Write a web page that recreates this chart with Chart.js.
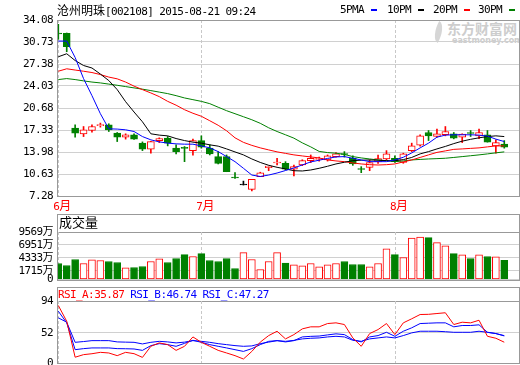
<!DOCTYPE html>
<html>
<head>
<meta charset="utf-8">
<script src="https://cdn.jsdelivr.net/npm/chart.js@4.4.1/dist/chart.umd.min.js"></script>
<style>
  html, body { margin: 0; padding: 0; background: #fff; overflow: hidden; }
  #wrap { position: relative; width: 520px; height: 365px; overflow: hidden; }
  canvas { position: absolute; left: 0; z-index: 1; }
  .box { position: absolute; box-sizing: border-box; border: 1px solid #999; z-index: 2; pointer-events: none; }
  .txt { position: absolute; white-space: pre; z-index: 3; color: #000;
         font-family: "DejaVu Sans Mono", "Noto Sans CJK SC", monospace; font-size: 11px;
         letter-spacing: -0.6px; line-height: 12px; }
  .cj { font-family: "Noto Sans CJK SC", sans-serif; font-size: 12px; letter-spacing: 0; }
  .dash { position: absolute; width: 6px; height: 2px; z-index: 3; }
  .wm { position: absolute; color: #cdcdcd; z-index: 0; font-weight: bold; white-space: pre; }
</style>
</head>
<body>
<div id="wrap">
  <div class="wm" style="left:447px;top:19px;font-family:'Noto Sans CJK SC';font-size:14px;line-height:18px;">东方财富网</div>
  <div class="wm" style="left:452px;top:36px;font-family:'DejaVu Sans';font-size:8px;line-height:10px;">eastmoney.com</div>
  <div class="wm" style="left:434px;top:22px;width:9px;height:20px;background:#d6d6d6;border-radius:0 100% 0 100%;transform:rotate(28deg);"></div>

  <div class="txt" style="left:57px;top:4px;"><span class="cj">沧州明珠</span>[002108] 2015-08-21 09:24</div>
  <div id="legend"></div>

  <canvas id="kline" width="520" height="210" style="top:0px"></canvas>
  <canvas id="vol" width="520" height="90" style="top:200px"></canvas>
  <canvas id="rsi" width="520" height="90" style="top:285px"></canvas>

  <div class="box" style="left:57px;top:20px;width:463px;height:177px;"></div>
  <div class="box" style="left:57px;top:214px;width:463px;height:67px;"></div>
  <div class="box" style="left:57px;top:287px;width:463px;height:77px;"></div>

  <div class="txt" style="left:59px;top:216px;"><span class="cj" style="font-size:13px">成交量</span></div>
  <div class="txt" id="rsiTitle" style="left:58px;top:289px;"></div>
  <div id="months"></div>
</div>

<script>
// trading days from 2015-06-01 to 2015-08-21, one entry per candle
const monthLabels = ['6月', '7月', '8月'];
const monthStart = [0, 17, 40];

const openP = [32.05, 32.05, 17.62, 16.74, 17.25, 18.00, 18.10, 16.86, 16.24, 16.60,
  15.33, 14.41, 15.72, 16.09, 14.56, 14.60, 14.19, 15.72, 14.56, 13.28,
  13.28, 10.10, 8.95, 8.29, 10.22, 11.60, 12.30, 12.26, 11.35, 12.00,
  12.66, 12.85, 12.77, 13.28, 13.68, 13.03, 11.40, 11.65, 12.47, 12.92,
  13.03, 12.41, 14.19, 15.02, 16.95, 16.34, 16.60, 16.75, 16.24, 16.90,
  16.44, 16.60, 14.91, 15.17];
const highP = [33.42, 32.10, 18.10, 17.86, 18.10, 18.38, 18.28, 16.95, 16.75, 16.75,
  15.52, 15.60, 16.14, 16.34, 15.07, 14.81, 15.94, 16.44, 15.07, 14.04,
  13.53, 10.83, 9.55, 9.82, 10.90, 11.85, 13.03, 12.51, 12.00, 12.80,
  13.53, 13.20, 13.53, 13.90, 14.04, 13.40, 11.75, 12.77, 13.53, 14.19,
  13.40, 13.80, 15.33, 16.60, 17.25, 17.47, 17.86, 16.95, 16.75, 17.25,
  17.47, 17.25, 15.83, 15.72];
const lowP = [31.13, 29.25, 16.24, 16.33, 17.00, 17.77, 17.10, 15.57, 15.94, 15.90,
  14.19, 13.80, 15.41, 14.91, 13.69, 12.51, 13.49, 14.56, 13.53, 12.16,
  10.98, 9.97, 8.95, 8.07, 10.22, 11.13, 12.00, 11.24, 10.32, 11.90,
  12.36, 12.60, 12.60, 13.20, 13.20, 11.95, 10.83, 11.13, 12.26, 12.77,
  12.41, 12.26, 14.04, 14.85, 15.72, 16.24, 16.44, 15.98, 15.41, 16.34,
  16.00, 15.48, 13.80, 14.56];
const closeP = [31.95, 30.00, 16.86, 17.36, 17.86, 18.10, 17.36, 16.24, 16.60, 15.94,
  14.41, 15.57, 16.04, 15.33, 14.04, 14.52, 15.72, 14.71, 13.69, 12.26,
  10.98, 10.02, 8.95, 9.82, 10.80, 11.85, 12.40, 11.35, 11.75, 12.66,
  13.03, 12.92, 13.38, 13.69, 13.60, 12.16, 11.32, 12.36, 12.97, 13.69,
  12.51, 13.69, 14.91, 16.44, 16.44, 16.75, 17.10, 16.09, 16.70, 16.80,
  16.95, 15.48, 15.41, 14.71];

const ma5 = [30.87, 30.87, 28.37, 25.16, 22.56, 19.81, 17.51, 17.47, 17.36, 17.10,
  16.33, 15.83, 15.52, 15.33, 15.22, 15.17, 15.17, 14.91, 14.61, 14.04,
  13.28, 12.51, 11.50, 10.47, 10.25, 10.47, 10.78, 11.16, 11.55, 12.01,
  12.47, 12.73, 13.00, 13.23, 13.28, 13.03, 12.77, 12.51, 12.51, 12.51,
  12.77, 13.18, 13.84, 14.61, 15.33, 16.24, 16.55, 16.60, 16.60, 16.60,
  16.55, 16.40, 15.94, 15.57];
const ma10 = [28.48, 28.94, 27.91, 27.15, 26.77, 25.85, 24.86, 23.48, 21.64, 20.07,
  18.58, 16.75, 16.55, 16.44, 16.03, 15.72, 15.48, 15.33, 15.07, 14.87,
  14.45, 13.99, 13.54, 12.92, 12.39, 11.96, 11.65, 11.40, 11.13, 11.09,
  11.24, 11.50, 11.81, 12.16, 12.42, 12.66, 12.73, 12.77, 12.73, 12.66,
  12.66, 12.82, 13.15, 13.69, 14.04, 14.45, 14.83, 15.26, 15.63, 15.91,
  16.14, 16.33, 16.44, 16.33];
const ma20 = [26.28, 26.65, 26.46, 26.28, 26.08, 25.77, 25.39, 25.12, 24.63, 24.01,
  23.48, 22.97, 22.41, 21.69, 21.11, 20.42, 19.88, 19.42, 18.74, 18.05,
  17.21, 16.14, 15.45, 14.99, 14.61, 14.30, 14.00, 13.77, 13.54, 13.38,
  13.23, 13.08, 12.77, 12.62, 12.51, 12.31, 12.16, 12.05, 12.00, 12.05,
  12.16, 12.47, 12.77, 13.15, 13.54, 13.92, 14.15, 14.38, 14.45, 14.53,
  14.61, 14.76, 14.91, 14.91];
const ma30 = [25.01, 25.16, 25.01, 24.81, 24.63, 24.50, 24.32, 24.14, 23.94, 23.74,
  23.55, 23.33, 23.10, 22.87, 22.56, 22.21, 21.95, 21.69, 21.34, 20.80,
  20.27, 19.81, 19.35, 18.89, 18.35, 17.67, 17.10, 16.60, 16.09, 15.37,
  14.76, 14.07, 13.89, 13.80, 13.61, 13.28, 13.08, 12.92, 12.77, 12.66,
  12.51, 12.62, 12.77, 12.85, 12.92, 12.97, 13.03, 13.15, 13.28, 13.41,
  13.54, 13.69, 13.85, 14.00];

// volume in 万 shares
const volume = [3210, 2808, 4012, 3210, 3950, 3811, 3611, 3410, 2340, 2407,
  2608, 3611, 4146, 3410, 4213, 5015, 4614, 5216, 3811, 3611,
  4213, 2207, 5416, 4012, 2006, 3611, 5416, 3270, 2949, 2748,
  3210, 2548, 2949, 3210, 3611, 3009, 3009, 2548, 3210, 6158,
  5015, 4413, 8365, 8565, 8425, 7422, 6760, 5216, 4955, 4213,
  4955, 4614, 4554, 3872];

const rsiA = [99.3, 72.0, 10.0, 14.4, 16.0, 18.4, 17.3, 12.7, 18.4, 16.1,
  9.7, 28.8, 34.7, 31.7, 21.8, 28.8, 45.0, 35.7, 28.8, 21.8,
  17.3, 12.7, 6.9, 20.0, 36.0, 47.3, 54.8, 41.6, 49.0, 58.9,
  62.4, 62.4, 68.1, 69.3, 66.4, 43.3, 28.8, 50.8, 57.7, 68.1,
  49.0, 69.3, 76.3, 83.7, 84.0, 85.4, 86.7, 66.4, 70.4, 69.3,
  73.8, 46.1, 42.7, 35.87];
const rsiB = [89.4, 69.3, 23.0, 24.8, 26.0, 26.0, 26.0, 24.8, 24.6, 24.2,
  21.8, 30.0, 33.4, 31.7, 28.8, 33.9, 39.2, 35.7, 31.7, 28.8,
  26.0, 23.0, 20.0, 24.8, 31.7, 37.4, 38.6, 36.4, 38.6, 45.0,
  46.0, 46.5, 48.5, 50.3, 49.0, 40.4, 36.4, 45.0, 47.3, 53.0,
  46.1, 54.8, 60.7, 68.1, 68.7, 69.3, 69.3, 62.4, 64.7, 64.7,
  65.9, 53.0, 50.8, 46.74];
const rsiC = [78.0, 70.4, 35.7, 37.0, 38.6, 38.6, 38.6, 36.4, 36.0, 35.7,
  32.9, 35.7, 37.4, 36.4, 34.7, 36.0, 38.6, 37.4, 35.7, 33.4,
  31.7, 30.0, 28.8, 29.5, 33.4, 36.0, 38.6, 37.4, 39.0, 41.6,
  42.7, 43.3, 45.0, 46.1, 45.0, 39.2, 37.4, 41.6, 43.3, 45.0,
  43.3, 47.3, 52.0, 54.8, 54.8, 54.8, 54.0, 53.0, 53.0, 53.0,
  54.8, 53.0, 50.8, 47.27];

const priceTicks = [7.28, 10.63, 13.98, 17.33, 20.68, 24.03, 27.38, 30.73, 34.08];
const volTicks = [0, 1715, 4333, 6951, 9569];
const volTickLabels = ['0', '1715万', '4333万', '6951万', '9569万'];
const rsiTicks = [0, 52, 107];
const rsiTickLabels = ['0', '52', '94'];
const maLegend = ['5PMA', '10PM', '20PM', '30PM'];

const RED = '#ff0000', GREEN = '#008000', BLUE = '#0000ff', BLACK = '#000000';
const GRID = '#d0d0d0', FRAME = '#999999';
const maColors = [BLUE, BLACK, RED, GREEN];

const idx = openP.map((_, i) => i);
const candleColor = i => closeP[i] > openP[i] ? RED : (closeP[i] < openP[i] ? GREEN : BLACK);
const upDay = i => closeP[i] >= openP[i];
const pts = arr => arr.map((v, i) => ({ x: i, y: v }));

const tickFont = { family: '"DejaVu Sans Mono", "Noto Sans CJK SC", monospace', size: 11 };

// tighter tick labels, closer to the narrow bitmap font of the original
const tightText = {
  id: 'tightText',
  afterInit(chart) { chart.ctx.letterSpacing = '-0.6px'; }
};

// dashed line at the first trading day of each month
const monthLines = {
  id: 'monthLines',
  beforeDatasetsDraw(chart) {
    const { ctx, chartArea, scales } = chart;
    ctx.save();
    ctx.strokeStyle = '#c8c8c8';
    ctx.lineWidth = 1;
    ctx.setLineDash([3, 2]);
    monthStart.forEach(i => {
      const px = Math.round(scales.x.getPixelForValue(i)) + 0.5;
      ctx.beginPath();
      ctx.moveTo(px, chartArea.top);
      ctx.lineTo(px, chartArea.bottom);
      ctx.stroke();
    });
    ctx.restore();
  }
};

function xAxis() {
  return { type: 'linear', display: false, min: -0.155, max: 54.75, offset: false, grid: { display: false } };
}

function yAxis(min, max, ticks, labelFn, topColor) {
  return {
    type: 'linear', min: min, max: max,
    afterBuildTicks: s => { s.ticks = ticks.map(v => ({ value: v })); },
    afterFit: s => { s.width = 57; },
    ticks: { autoSkip: false, padding: 4, color: '#000', font: tickFont, callback: labelFn },
    grid: { drawTicks: false, color: c => (topColor && c.tick && c.tick.value === max) ? topColor : GRID },
    border: { display: false }
  };
}

function baseOptions(padTop, padBottom, y) {
  return {
    responsive: false, animation: false, events: [],
    layout: { padding: { top: padTop, bottom: padBottom, left: 0, right: 1 } },
    plugins: { legend: { display: false }, tooltip: { enabled: false } },
    scales: { x: xAxis(), y: y }
  };
}

// price panel
const maSets = [ma5, ma10, ma20, ma30].map((arr, k) => ({
  type: 'line', data: pts(arr), borderColor: maColors[k], borderWidth: 1,
  pointRadius: 0, tension: 0, order: 0
}));

const kChart = new Chart(document.getElementById('kline'), {
  type: 'bar',
  data: {
    datasets: maSets.concat([
      {
        data: idx.map(i => ({ x: i, y: [openP[i], closeP[i]] })),
        backgroundColor: idx.map(i => candleColor(i) === RED ? '#ffffff' : candleColor(i)),
        borderColor: idx.map(candleColor),
        borderWidth: 1, borderSkipped: false, barThickness: 7, minBarLength: 1,
        grouped: false, order: 1
      },
      {
        data: idx.map(i => ({ x: i, y: [lowP[i], highP[i]] })),
        backgroundColor: idx.map(candleColor),
        borderWidth: 0, barThickness: 1, grouped: false, order: 2
      }
    ])
  },
  options: baseOptions(20, 14, yAxis(7.28, 34.08, priceTicks, v => v.toFixed(2), null)),
  plugins: [tightText, monthLines]
});

// volume panel
new Chart(document.getElementById('vol'), {
  type: 'bar',
  data: {
    datasets: [{
      data: pts(volume),
      backgroundColor: idx.map(i => upDay(i) ? '#ffffff' : GREEN),
      borderColor: idx.map(i => upDay(i) ? RED : GREEN),
      borderWidth: 1, borderSkipped: false, barThickness: 7, grouped: false
    }]
  },
  options: baseOptions(32, 10, yAxis(0, 9569, volTicks, (v, i) => volTickLabels[i], FRAME)),
  plugins: [tightText, monthLines]
});

// RSI panel
new Chart(document.getElementById('rsi'), {
  type: 'line',
  data: {
    datasets: [
      { data: pts(rsiA), borderColor: RED, borderWidth: 1, pointRadius: 0, tension: 0 },
      { data: pts(rsiB), borderColor: BLUE, borderWidth: 1, pointRadius: 0, tension: 0 },
      { data: pts(rsiC), borderColor: BLUE, borderWidth: 1, pointRadius: 0, tension: 0 }
    ]
  },
  options: baseOptions(16, 12, yAxis(0, 107, rsiTicks, (v, i) => rsiTickLabels[i], FRAME)),
  plugins: [tightText, monthLines]
});

// month labels under the price panel, placed by the x scale
const months = document.getElementById('months');
monthStart.forEach((i, k) => {
  const d = document.createElement('div');
  d.className = 'txt';
  d.style.color = RED;
  d.style.left = (kChart.scales.x.getPixelForValue(i) - 5) + 'px';
  d.style.top = '199px';
  d.innerHTML = monthLabels[k].replace('月', '<span class="cj">月</span>');
  months.appendChild(d);
});

// MA legend at the top right
const legend = document.getElementById('legend');
const legendX = [340, 387, 433, 478];
maLegend.forEach((name, k) => {
  const t = document.createElement('div');
  t.className = 'txt';
  t.style.left = legendX[k] + 'px';
  t.style.top = '4px';
  t.textContent = name;
  legend.appendChild(t);
  const d = document.createElement('div');
  d.className = 'dash';
  d.style.left = (legendX[k] + 31) + 'px';
  d.style.top = '9px';
  d.style.background = maColors[k];
  legend.appendChild(d);
});

// RSI header with the latest values
const last = rsiA.length - 1;
document.getElementById('rsiTitle').innerHTML =
  '<span style="color:' + RED + '">RSI_A:' + rsiA[last].toFixed(2) + '</span> ' +
  '<span style="color:' + BLUE + '">RSI_B:' + rsiB[last].toFixed(2) + '</span> ' +
  '<span style="color:' + BLUE + '">RSI_C:' + rsiC[last].toFixed(2) + '</span>';
</script>
</body>
</html>
